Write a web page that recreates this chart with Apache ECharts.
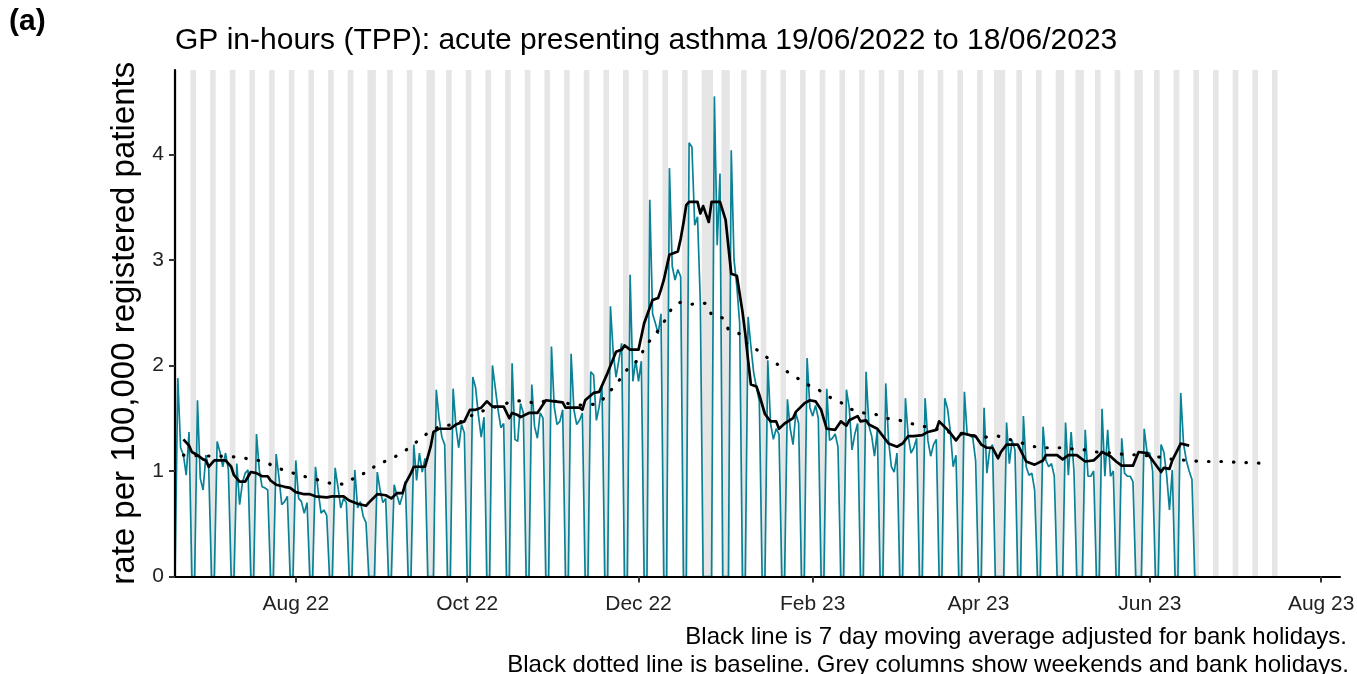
<!DOCTYPE html>
<html><head><meta charset="utf-8">
<script src="https://cdn.jsdelivr.net/npm/echarts@6/dist/echarts.min.js"></script>
<style>html,body{margin:0;padding:0;background:#fff}#c{width:1357px;height:674px}</style>
</head><body><div id="c"></div>
<script>
// ---------------- DATA ----------------
const startDate = '2022-06-19';            // day 0 of the daily series
// Daily rate per 100,000 (19/06/2022 .. 18/06/2023), rows Sun..Sat
const dailyRate = [
0,1.88,1.22,1.15,0.96,1.37,0,
0,1.67,0.93,0.82,1.15,1.03,0,
0,1.28,1.18,1.04,1.17,1.01,0,
0,1.07,0.68,0.89,0.98,1.01,0,
0,1.35,1.01,0.85,0.84,0.82,0,
0,1.16,0.94,0.68,0.71,0.76,0,
0,1.10,0.74,0.71,0.60,0.70,0,
0,1.04,0.80,0.60,0.63,0.58,0,
0,1.03,0.85,0.65,0.74,0.70,0,
0,1.01,0.65,0.71,0.57,0.51,0,
0,0,0.99,0.82,0.70,0.74,0,
0,0.87,0.77,0.68,0.77,0.90,0,
0,1.25,0.91,1.17,0.99,1.12,0,
0,0,1.77,1.50,1.32,1.25,0,
0,1.78,1.42,1.22,1.44,1.36,0,
0,1.89,1.79,1.53,1.32,1.51,0,
0,2.00,1.79,1.58,1.41,1.45,0,
0,2.02,1.30,1.28,1.64,1.55,0,
0,1.82,1.42,1.31,1.55,1.50,0,
0,2.18,1.61,1.44,1.47,1.58,0,
0,2.11,1.58,1.44,1.48,1.55,0,
0,1.94,1.91,1.48,1.61,1.80,0,
0,2.56,2.12,1.89,2.05,2.21,0,
0,2.86,1.85,2.05,1.85,2.04,0,
0,3.57,2.49,2.40,2.30,2.49,0,
0,3.87,2.94,2.81,2.91,2.84,0,
0,4.11,4.07,3.33,3.41,2.60,0,
0,0,0,4.55,3.14,3.82,0,
0,0,4.04,3.00,2.75,2.40,0,
0,2.46,2.18,1.93,1.79,1.66,0,
0,2.05,1.45,1.30,1.40,1.35,0,
0,1.68,1.40,1.25,1.55,1.45,0,
0,2.07,1.60,1.52,1.62,1.50,0,
0,1.78,1.29,1.31,1.35,1.23,0,
0,1.77,1.60,1.20,1.35,1.45,0,
0,1.94,1.43,1.33,1.14,1.39,0,
0,1.83,1.29,1.04,0.99,1.17,0,
0,1.69,1.33,1.17,1.22,1.31,0,
0,1.69,1.29,1.14,1.25,1.30,0,
0,1.69,1.59,1.37,1.04,1.15,0,
0,1.75,1.34,1.34,1.31,1.10,0,
0,1.60,0.98,1.20,1.25,0,0,
0,0,1.46,1.07,1.29,1.20,0,
0,1.52,1.04,0.96,0.98,0.82,0,
0,1.42,1.10,1.04,1.07,0.95,0,
0,0,1.46,0.96,1.37,1.00,0,
0,0,1.39,0.95,0.95,1.00,0,
0,1.59,0.95,1.39,0.95,1.00,0,
0,1.31,0.98,0.95,0.95,0.90,0,
0,0,1.40,1.18,1.17,1.00,0,
0,1.25,1.18,0.96,0.63,1.01,0,
0,1.74,1.26,1.10,1.00,0.92,0,
0
];
// 7 day moving average (day offset from startDate, value)
const maDay  = [3,5,6,8,10,11,12,14,18,20,21,23,25,27,29,31,33,34,36,39,41,43,46,48,50,54,56,60,62,65,68,69,72,75,77,79,81,82,84,85,89,91,92,94,98,100,103,105,107,109,111,113,117,119,120,122,123,126,129,132,135,138,139,144,145,146,149,151,154,157,159,160,162,165,167,170,172,173,174,176,179,180,181,182,183,186,187,188,190,191,194,196,198,200,202,203,204,205,207,208,210,212,214,215,217,220,221,224,226,228,230,232,235,237,239,240,243,244,246,247,250,252,254,257,259,261,263,266,268,271,272,275,276,278,280,283,285,287,289,291,293,294,296,300,303,306,309,310,314,316,318,321,324,327,329,330,333,335,337,341,343,346,348,351,352,354,355,358,361];
const maRate = [1.30,1.24,1.18,1.15,1.11,1.10,1.04,1.10,1.10,1.04,0.96,0.90,0.90,0.99,0.98,0.95,0.95,0.91,0.87,0.85,0.84,0.80,0.78,0.78,0.76,0.75,0.76,0.76,0.72,0.69,0.67,0.70,0.78,0.77,0.74,0.79,0.79,0.88,0.98,1.04,1.04,1.23,1.37,1.40,1.40,1.44,1.47,1.58,1.58,1.60,1.66,1.61,1.61,1.50,1.55,1.53,1.51,1.55,1.55,1.67,1.66,1.65,1.60,1.60,1.58,1.67,1.74,1.75,1.93,2.13,2.15,2.19,2.15,2.15,2.40,2.62,2.64,2.72,2.81,3.05,3.08,3.20,3.35,3.52,3.55,3.55,3.44,3.51,3.36,3.55,3.55,3.38,2.87,2.85,2.51,2.30,2.05,1.82,1.80,1.72,1.54,1.47,1.47,1.40,1.45,1.50,1.56,1.64,1.67,1.66,1.58,1.40,1.39,1.47,1.43,1.48,1.52,1.47,1.48,1.44,1.40,1.33,1.26,1.23,1.26,1.33,1.33,1.34,1.37,1.39,1.47,1.39,1.36,1.29,1.36,1.34,1.33,1.25,1.22,1.22,1.12,1.18,1.25,1.25,1.09,1.06,1.10,1.15,1.15,1.11,1.15,1.15,1.09,1.10,1.15,1.18,1.14,1.09,1.05,1.05,1.18,1.17,1.10,0.99,1.03,1.02,1.10,1.26,1.24];
// Baseline (day offset, value)
const baselineDay  = [3,14,18,23,27,32,36,40,44,49,53,57,61,65,69,72,76,80,84,87,90,94,99,103,107,111,119,124,128,133,142,146,151,154,157,159,162,165,167,170,172,175,177,180,184,189,191,195,197,201,204,207,211,214,218,221,225,229,233,237,240,245,249,253,258,262,267,271,275,280,285,289,293,297,306,310,315,319,324,328,333,337,344,351,355,360,365,369,374,379,383,389];
const baselineRate = [1.15,1.14,1.14,1.13,1.11,1.09,1.03,1.00,0.96,0.93,0.90,0.87,0.88,0.96,0.99,1.07,1.10,1.16,1.23,1.30,1.36,1.42,1.44,1.48,1.55,1.58,1.65,1.67,1.64,1.67,1.63,1.62,1.64,1.73,1.82,1.89,2.00,2.05,2.16,2.27,2.33,2.45,2.55,2.60,2.58,2.59,2.48,2.45,2.34,2.30,2.19,2.15,2.07,2.02,1.94,1.89,1.82,1.77,1.70,1.65,1.59,1.55,1.54,1.50,1.48,1.45,1.42,1.40,1.37,1.35,1.33,1.32,1.33,1.30,1.23,1.22,1.22,1.21,1.20,1.18,1.17,1.16,1.15,1.13,1.11,1.10,1.09,1.09,1.09,1.08,1.08,1.07];
const bankHolidays = ['2022-08-29','2022-09-19','2022-12-26','2022-12-27','2023-01-02','2023-04-07','2023-04-10','2023-05-01','2023-05-08','2023-05-29'];
const shadeEndDate = '2023-07-16';
const xTickDates  = ['2022-08-01','2022-10-01','2022-12-01','2023-02-01','2023-04-01','2023-06-01','2023-08-01'];
const xTickLabels = ['Aug 22','Oct 22','Dec 22','Feb 23','Apr 23','Jun 23','Aug 23'];
const yTicks = [0,1,2,3,4];
const titleText = 'GP in-hours (TPP): acute presenting asthma 19/06/2022 to 18/06/2023';
const yAxisTitle = 'rate per 100,000 registered patients';
const caption1 = 'Black line is 7 day moving average adjusted for bank holidays.';
const caption2 = 'Black dotted line is baseline. Grey columns show weekends and bank holidays.';

// ---------------- BUILD ----------------
const DAY = 86400000;
const t0 = Date.parse(startDate + 'T00:00:00Z');
const dayT = d => t0 + d * DAY;
const xTickMs = xTickDates.map(s => Date.parse(s + 'T00:00:00Z'));
const holSet = new Set(bankHolidays.map(s => Date.parse(s + 'T00:00:00Z')));
const shadeEnd = Math.round((Date.parse(shadeEndDate + 'T00:00:00Z') - t0) / DAY);

// group consecutive weekend / holiday days into grey columns
const areas = [];
let runStart = null;
for (let d = 0; d <= shadeEnd + 1; d++) {
  const t = dayT(d);
  const wd = new Date(t).getUTCDay();
  const off = d <= shadeEnd && (wd === 0 || wd === 6 || holSet.has(t));
  if (off && runStart === null) runStart = d;
  if (!off && runStart !== null) {
    areas.push([{ xAxis: dayT(Math.max(runStart - 0.5, 0)) }, { xAxis: dayT(d - 1 + 0.5) }]);
    runStart = null;
  }
}

const chart = echarts.init(document.getElementById('c'), null, { renderer: 'canvas' });
const FONT = '"Liberation Sans", Arial, sans-serif';
chart.setOption({
  animation: false,
  backgroundColor: '#ffffff',
  grid: { left: 175, right: 17, top: 70, bottom: 97.5, containLabel: false, outerBoundsMode: 'none' },
  xAxis: {
    type: 'value', min: t0, max: dayT(414.7), z: 10,
    splitLine: { show: false },
    axisLine: { show: true, onZero: false, lineStyle: { color: '#000', width: 2.2 } },
    axisTick: { show: true, length: 6, customValues: xTickMs, lineStyle: { color: '#333', width: 2 } },
    axisLabel: {
      customValues: xTickMs, margin: 17, color: '#222', fontSize: 21, fontFamily: FONT,
      formatter: v => { let i = 0, best = Infinity; xTickMs.forEach((m, k) => { const dd = Math.abs(m - v); if (dd < best) { best = dd; i = k; } }); return xTickLabels[i]; }
    }
  },
  yAxis: {
    type: 'value', min: 0, max: 4.8, z: 10,
    splitLine: { show: false },
    axisLine: { show: true, lineStyle: { color: '#000', width: 2.2 } },
    axisTick: { show: true, length: 6, customValues: yTicks, lineStyle: { color: '#333', width: 2 } },
    axisLabel: { customValues: yTicks, margin: 11, color: '#222', fontSize: 21, fontFamily: FONT },
    name: yAxisTitle, nameLocation: 'middle', nameGap: 31, nameRotate: 90,
    nameTextStyle: { fontSize: 33, color: '#000', fontFamily: FONT }
  },
  graphic: [
    { type: 'text', left: 9, top: 7, style: { text: '(a)', font: 'bold 30px ' + FONT, fill: '#000' } },
    { type: 'text', left: 175, top: 26, style: { text: titleText, font: '30px ' + FONT, fill: '#000' } },
    { type: 'text', right: 10, top: 625, style: { text: caption1, font: '24px ' + FONT, fill: '#000' } },
    { type: 'text', right: 8, top: 653, style: { text: caption2, font: '24px ' + FONT, fill: '#000' } }
  ],
  series: [
    {
      type: 'line', name: 'daily', symbol: 'none', z: 2,
      data: dailyRate.map((v, i) => [dayT(i), v]),
      lineStyle: { color: '#0a8296', width: 1.7 },
      markArea: { silent: true, z: 1, itemStyle: { color: '#e6e6e6', opacity: 1 }, data: areas }
    },
    {
      type: 'line', name: 'baseline', symbol: 'none', z: 4,
      data: baselineDay.map((d, i) => [dayT(d), baselineRate[i]]),
      lineStyle: { color: '#000', width: 3.2, type: [0.5, 12], cap: 'round' }
    },
    {
      type: 'line', name: 'ma', symbol: 'none', z: 5,
      data: maDay.map((d, i) => [dayT(d), maRate[i]]),
      lineStyle: { color: '#000', width: 2.7, join: 'round' }
    }
  ]
});
</script></body></html>
